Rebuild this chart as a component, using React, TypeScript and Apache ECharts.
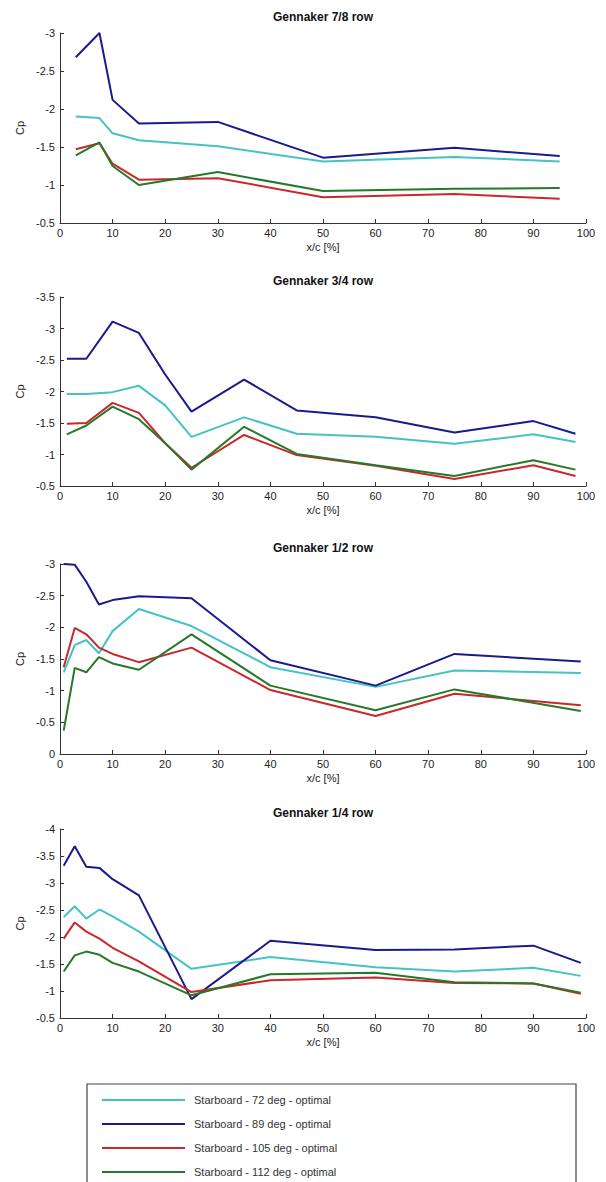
import React, { useEffect, useRef } from "react";
import * as echarts from "echarts";

// ---- Data ----
const TITLES = ["Gennaker 7/8 row", "Gennaker 3/4 row", "Gennaker 1/2 row", "Gennaker 1/4 row"];
const SERIES_NAMES = [
  "Starboard - 72 deg - optimal",
  "Starboard - 89 deg - optimal",
  "Starboard - 105 deg - optimal",
  "Starboard - 112 deg - optimal",
];
const SERIES_COLORS = ["#45c2c4", "#1b1a8c", "#c8282a", "#26782a"];

const X_78 = [3, 7.5, 10, 15, 30, 50, 75, 95];
const C72_78 = [-1.9, -1.88, -1.68, -1.59, -1.51, -1.31, -1.37, -1.31];
const C89_78 = [-2.68, -3.0, -2.12, -1.81, -1.83, -1.36, -1.49, -1.38];
const C105_78 = [-1.47, -1.55, -1.28, -1.07, -1.09, -0.84, -0.88, -0.82];
const C112_78 = [-1.39, -1.56, -1.25, -1.0, -1.17, -0.92, -0.95, -0.96];

const X_34 = [1.3, 5, 10, 15, 20, 25, 35, 45, 60, 75, 90, 98];
const C72_34 = [-1.96, -1.96, -1.99, -2.09, -1.78, -1.28, -1.59, -1.33, -1.28, -1.17, -1.32, -1.2];
const C89_34 = [-2.52, -2.52, -3.11, -2.93, -2.27, -1.68, -2.19, -1.7, -1.59, -1.35, -1.53, -1.33];
const C105_34 = [-1.49, -1.5, -1.82, -1.66, -1.18, -0.79, -1.31, -0.99, -0.82, -0.61, -0.83, -0.66];
const C112_34 = [-1.32, -1.46, -1.76, -1.56, -1.18, -0.76, -1.44, -1.01, -0.83, -0.66, -0.91, -0.76];

const X_12 = [0.7, 2.8, 5, 7.4, 10, 15, 25, 40, 60, 75, 99];
const C72_12 = [-1.29, -1.72, -1.8, -1.59, -1.94, -2.29, -2.02, -1.37, -1.06, -1.32, -1.28];
const C89_12 = [-3.0, -2.99, -2.72, -2.36, -2.43, -2.49, -2.46, -1.48, -1.08, -1.58, -1.46];
const C105_12 = [-1.37, -1.99, -1.89, -1.68, -1.58, -1.45, -1.68, -1.01, -0.6, -0.95, -0.77];
const C112_12 = [-0.37, -1.36, -1.29, -1.53, -1.43, -1.33, -1.89, -1.08, -0.69, -1.02, -0.68];

const X_14 = [0.7, 2.8, 5, 7.5, 10, 15, 25, 40, 60, 75, 90, 99];
const C72_14 = [-2.37, -2.57, -2.34, -2.51, -2.38, -2.1, -1.41, -1.63, -1.44, -1.36, -1.43, -1.28];
const C89_14 = [-3.32, -3.68, -3.3, -3.28, -3.07, -2.77, -0.85, -1.93, -1.76, -1.77, -1.84, -1.52];
const C105_14 = [-1.97, -2.27, -2.1, -1.97, -1.8, -1.55, -0.98, -1.2, -1.25, -1.15, -1.14, -0.95];
const C112_14 = [-1.36, -1.66, -1.73, -1.67, -1.52, -1.36, -0.92, -1.31, -1.34, -1.16, -1.14, -0.97];

const Y_MIN = [-3, -3.5, -3, -4];
const Y_MAX = [-0.5, -0.5, 0, -0.5];

const PANELS = [
  { x: X_78, ys: [C72_78, C89_78, C105_78, C112_78] },
  { x: X_34, ys: [C72_34, C89_34, C105_34, C112_34] },
  { x: X_12, ys: [C72_12, C89_12, C105_12, C112_12] },
  { x: X_14, ys: [C72_14, C89_14, C105_14, C112_14] },
];

// ---- Layout ----
const GRID_TOPS = [33, 297, 564, 829];
const GRID_HEIGHTS = [190, 189, 190, 189];
const GRID_LEFT = 60;
const GRID_WIDTH = 526;
const FONT = "'Liberation Sans', Arial, sans-serif";

export default function App() {
  const ref = useRef<HTMLDivElement>(null);

  useEffect(() => {
    if (!ref.current) return;
    const chart = echarts.init(ref.current, undefined, { renderer: "svg" });

    const axisColor = "#333";
    const labelStyle = { color: "#222", fontSize: 11, fontFamily: FONT };

    const grids = GRID_TOPS.map((t, i) => ({
      left: GRID_LEFT,
      top: t,
      width: GRID_WIDTH,
      height: GRID_HEIGHTS[i],
      containLabel: false,
    }));

    const xAxes = GRID_TOPS.map((_, i) => ({
      type: "value",
      gridIndex: i,
      min: 0,
      max: 100,
      interval: 10,
      name: "x/c [%]",
      nameLocation: "middle",
      nameGap: 18,
      nameTextStyle: { ...labelStyle },
      axisLine: { show: true, onZero: false, lineStyle: { color: axisColor, width: 1 } },
      axisTick: { show: true, inside: true, length: 4, lineStyle: { color: axisColor } },
      axisLabel: { ...labelStyle, margin: 4 },
      splitLine: { show: false },
    }));

    const yAxes = GRID_TOPS.map((_, i) => ({
      type: "value",
      gridIndex: i,
      min: Y_MIN[i],
      max: Y_MAX[i],
      interval: 0.5,
      inverse: true,
      name: "Cp",
      nameLocation: "middle",
      nameGap: 34,
      nameRotate: 90,
      nameTextStyle: { ...labelStyle },
      axisLine: { show: true, onZero: false, lineStyle: { color: axisColor, width: 1 } },
      axisTick: { show: true, inside: true, length: 4, lineStyle: { color: axisColor } },
      axisLabel: { ...labelStyle, margin: 5 },
      splitLine: { show: false },
    }));

    const series: any[] = [];
    PANELS.forEach((p, i) => {
      p.ys.forEach((ys, k) => {
        series.push({
          type: "line",
          name: SERIES_NAMES[k],
          xAxisIndex: i,
          yAxisIndex: i,
          data: p.x.map((x, j) => [x, ys[j]]),
          symbol: "none",
          showSymbol: false,
          lineStyle: { color: SERIES_COLORS[k], width: 2 },
          itemStyle: { color: SERIES_COLORS[k] },
        });
      });
    });

    const titles = TITLES.map((t, i) => ({
      text: t,
      left: GRID_LEFT + GRID_WIDTH / 2,
      top: GRID_TOPS[i] - 22,
      textAlign: "center",
      padding: 0,
      textStyle: { fontSize: 12, fontWeight: "bold", color: "#111", fontFamily: FONT },
    }));

    chart.setOption({
      animation: false,
      backgroundColor: "#fff",
      title: titles,
      grid: grids,
      xAxis: xAxes,
      yAxis: yAxes,
      series,
      legend: {
        orient: "vertical",
        left: 102,
        top: 1093,
        padding: 0,
        itemGap: 10,
        itemWidth: 83,
        itemHeight: 2,
        icon: "rect",
        data: SERIES_NAMES,
        textStyle: { ...labelStyle, color: "#333", lineHeight: 14, padding: [0, 0, 0, 4] },
        selectedMode: false,
      },
      graphic: [
        {
          type: "rect",
          shape: { x: 87, y: 1084, width: 489, height: 200 },
          style: { fill: "rgba(0,0,0,0)", stroke: "#444", lineWidth: 1.2 },
          silent: true,
        },
      ],
    });

    return () => chart.dispose();
  }, []);

  return (
    <div
      ref={ref}
      style={{ position: "absolute", left: 0, top: 0, width: 606, height: 1182 }}
    />
  );
}
